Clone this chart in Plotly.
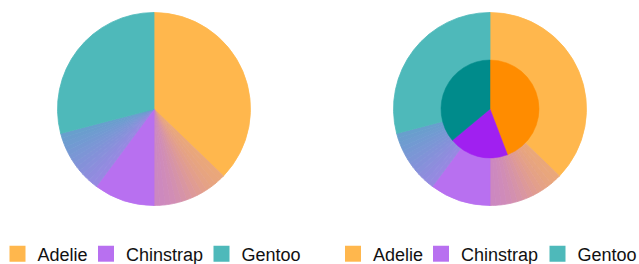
import plotly.graph_objects as go

# ---- data ----
species = ["Adelie", "Chinstrap", "Gentoo"]
species_counts = [152, 68, 124]

# outer ring / left pie segments (counts out of 344)
outer_labels = ["Adelie", "Adelie→Chinstrap", "Chinstrap", "Chinstrap→Gentoo", "Gentoo"]
outer_values = [128, 44, 35, 37, 100]

# ---- style ----
light = {"Adelie": (255, 183, 77), "Chinstrap": (184, 112, 240), "Gentoo": (78, 185, 186)}
dark = {"Adelie": "#FF8C00", "Chinstrap": "#A020F0", "Gentoo": "#008B8B"}
grad_ends = {
    "Adelie→Chinstrap": ((234, 167, 122), (204, 136, 192), True),
    "Chinstrap→Gentoo": ((152, 136, 226), (102, 160, 204), False),
}
N_SUB = 14


def rgb(c):
    return "rgb(%d,%d,%d)" % tuple(int(round(v)) for v in c)


def build_ring():
    labels, values, colors = [], [], []
    for lab, val in zip(outer_labels, outer_values):
        if lab in grad_ends:
            c0, c1, smooth = grad_ends[lab]
            for k in range(N_SUB):
                t = (k + 0.5) / N_SUB
                if smooth:
                    t = t * t * (3 - 2 * t)
                labels.append("%s %d" % (lab, k))
                values.append(val / N_SUB)
                colors.append(rgb([a + (b - a) * t for a, b in zip(c0, c1)]))
        else:
            labels.append(lab)
            values.append(val)
            colors.append(rgb(light[lab]))
    return labels, values, colors


rl, rv, rc = build_ring()

W, H = 639, 264


def dom(cx, cy, r):
    return dict(x=[(cx - r) / W, (cx + r) / W], y=[1 - (cy + r) / H, 1 - (cy - r) / H])


fig = go.Figure()

common = dict(sort=False, direction="clockwise", rotation=0, textinfo="none",
              hoverinfo="skip", showlegend=False)

fig.add_trace(go.Pie(labels=rl, values=rv, marker=dict(colors=rc, line=dict(color=rc, width=0.8)),
                     domain=dom(154, 109, 96.5), **common))
fig.add_trace(go.Pie(labels=rl, values=rv, marker=dict(colors=rc, line=dict(color=rc, width=0.8)),
                     domain=dom(490, 109, 96.5), **common))
inner_cols = [dark[s] for s in species]
fig.add_trace(go.Pie(labels=["in " + s for s in species], values=species_counts,
                     marker=dict(colors=inner_cols, line=dict(color=inner_cols, width=0.5)),
                     domain=dom(490, 109, 49), **common))

# one legend per entry so the spacing can match the reference
square_centers = [17.5, 106, 221.5, 353, 441, 557.5]
SYMBOL_OFFSET = 20  # px from legend left edge to square centre
legend_font = dict(family="Liberation Sans, Arial, sans-serif", size=18, color="#111")
layout_legends = {}
i = 0
for side in range(2):
    for s in species:
        key = "legend" if i == 0 else "legend%d" % (i + 1)
        fig.add_trace(go.Scatter(x=[None], y=[None], mode="markers", name=s, legend=key,
                                 marker=dict(symbol="square", size=16, color=rgb(light[s])),
                                 hoverinfo="skip"))
        layout_legends[key] = dict(orientation="h", yanchor="middle", xanchor="left",
                                   x=(square_centers[i] - SYMBOL_OFFSET) / W, y=1 - 254 / H,
                                   font=legend_font, bgcolor="rgba(0,0,0,0)",
                                   itemclick=False, itemdoubleclick=False)
        i += 1

fig.update_layout(
    width=W, height=H,
    margin=dict(l=0, r=0, t=0, b=0, autoexpand=False),
    paper_bgcolor="white", plot_bgcolor="white",
    xaxis=dict(visible=False), yaxis=dict(visible=False),
    **layout_legends,
)

fig.write_html("out.html", config={"displayModeBar": False, "staticPlot": True},
               post_script="document.body.style.margin='0';")
